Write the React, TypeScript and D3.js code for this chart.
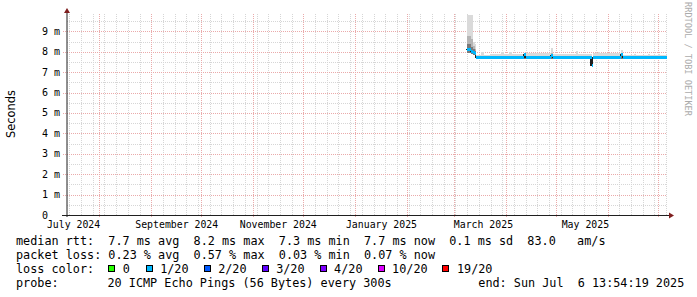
import React from "react";
import * as d3 from "d3";

// ---------- data ----------
const END_TIME = "2025-07-06T13:54:19Z";
const SPAN_DAYS = 359;

const sampleTimes = [
  "2025-03-08T22:00:00Z", "2025-03-11T08:00:00Z", "2025-03-12T12:00:00Z", "2025-03-13T12:00:00Z",
  "2025-03-14T08:00:00Z", "2025-03-17T14:00:00Z", "2025-03-19T02:00:00Z", "2025-03-22T17:00:00Z",
  "2025-03-29T07:00:00Z", "2025-03-31T00:00:00Z", "2025-04-03T00:00:00Z", "2025-04-05T00:00:00Z",
  "2025-04-12T07:00:00Z", "2025-04-12T22:00:00Z", "2025-04-28T00:00:00Z", "2025-04-29T05:00:00Z",
  "2025-05-13T10:00:00Z", "2025-05-14T14:00:00Z", "2025-05-22T10:00:00Z", "2025-05-23T14:00:00Z",
  "2025-05-26T00:00:00Z", "2025-05-27T05:00:00Z", "2025-05-31T12:00:00Z", "2025-06-02T00:00:00Z",
  "2025-06-09T00:00:00Z", "2025-06-10T05:00:00Z", "2025-06-17T02:00:00Z", "2025-06-18T07:00:00Z",
  "2025-06-25T00:00:00Z", "2025-06-26T05:00:00Z", "2025-07-01T00:00:00Z", "2025-07-02T05:00:00Z",
  "2025-07-06T13:54:19Z",
];
// median rtt (ms)
const medianMs = [
  8.10, 8.03, 7.98, 7.93, 7.70, 7.70, 7.70, 7.70,
  7.70, 7.70, 7.70, 7.70, 7.88, 7.70, 7.83, 7.70,
  7.70, 7.70, 7.35, 7.70, 7.70, 7.70, 7.70, 7.70,
  7.86, 7.70, 7.70, 7.70, 7.70, 7.70, 7.70, 7.70,
  7.70,
];
// smoke: outer (max ping), middle, inner, lower bound (ms)
const smokeHi1 = [
  12.0, 12.0, 8.50, 8.40, 7.84, 8.00, 7.86, 7.89,
  7.98, 7.89, 7.98, 7.89, 7.95, 7.92, 8.20, 7.89,
  8.03, 7.89, 7.45, 7.92, 8.00, 7.93, 7.96, 7.93,
  8.09, 7.84, 7.90, 7.84, 7.89, 7.83, 7.87, 7.83,
  7.83,
];
const smokeHi2 = [
  8.75, 8.60, 8.30, 8.15, 7.74, 7.74, 7.74, 7.74,
  7.74, 7.74, 7.74, 7.74, 7.92, 7.74, 7.92, 7.74,
  7.74, 7.74, 7.40, 7.74, 7.74, 7.74, 7.74, 7.74,
  7.92, 7.74, 7.74, 7.74, 7.74, 7.74, 7.74, 7.74,
  7.74,
];
const smokeHi3 = [
  8.40, 8.25, 8.12, 8.02, 7.72, 7.72, 7.72, 7.72,
  7.72, 7.72, 7.72, 7.72, 7.90, 7.72, 7.86, 7.72,
  7.72, 7.72, 7.37, 7.72, 7.72, 7.72, 7.72, 7.72,
  7.89, 7.72, 7.72, 7.72, 7.72, 7.72, 7.72, 7.72,
  7.72,
];
const smokeLo = [
  7.95, 7.88, 7.85, 7.80, 7.64, 7.64, 7.64, 7.64,
  7.64, 7.64, 7.64, 7.64, 7.66, 7.64, 7.66, 7.64,
  7.64, 7.64, 7.30, 7.64, 7.64, 7.64, 7.64, 7.64,
  7.66, 7.64, 7.64, 7.64, 7.64, 7.64, 7.64, 7.64,
  7.64,
];
// loss bucket index per sample (into lossLabels / lossColors)
const lossBucket = [
  1, 1, 1, 1, 1, 1, 1, 1, 1, 1, 1, 1, 1, 1, 1, 1,
  1, 1, 1, 1, 1, 1, 1, 1, 1, 1, 1, 1, 1, 1, 1, 1, 1,
];

const lossLabels = ["0", "1/20", "2/20", "3/20", "4/20", "10/20", "19/20"];
const lossColors = ["#26ff00", "#00b8ff", "#0059ff", "#5e00ff", "#7e00ff", "#dd00ff", "#ff0000"];

const yMax = 9.8;
const yTicks = [0, 1, 2, 3, 4, 5, 6, 7, 8, 9];
const yTickLabels = ["0", "1 m", "2 m", "3 m", "4 m", "5 m", "6 m", "7 m", "8 m", "9 m"];

const monthLabels = ["July 2024", "September 2024", "November 2024", "January 2025", "March 2025", "May 2025"];
const monthLabelDates = [
  "2024-07-16T12:00:00Z", "2024-09-16T06:00:00Z", "2024-11-16T00:00:00Z",
  "2025-01-16T18:00:00Z", "2025-03-18T18:00:00Z", "2025-05-18T18:00:00Z",
];

const rttStats = ["7.7 ms avg", "8.2 ms max", "7.3 ms min", "7.7 ms now", "0.1 ms sd", "83.0   am/s"];
const lossStats = ["0.23 % avg", "0.57 % max", "0.03 % min", "0.07 % now"];
const probeText = "20 ICMP Echo Pings (56 Bytes) every 300s";
const endText = "end: Sun Jul  6 13:54:19 2025";

// ---------- layout ----------
const W = 697, H = 297;
const PL = 67, PR = 667, PT = 15, PB = 215;
const MONO = "'DejaVu Sans Mono', monospace";

export default function App() {
  const end = new Date(END_TIME);
  const start = new Date(end.getTime() - SPAN_DAYS * 86400000);
  const x = d3.scaleUtc().domain([start, end]).range([PL, PR]);
  const y = d3.scaleLinear().domain([0, yMax]).range([PB, PT]);

  const times = sampleTimes.map((s) => new Date(s));
  const idx = d3.range(times.length);

  const smokeArea = (hi: number[]) =>
    d3.area<number>()
      .curve(d3.curveStepAfter)
      .x((i) => x(times[i]))
      .y0((i) => y(smokeLo[i]))
      .y1((i) => y(hi[i]))(idx) || "";

  const medLine = d3.line<number>()
    .curve(d3.curveStepAfter)
    .x((i) => x(times[i]))
    .y((i) => y(medianMs[i]))(idx) || "";

  const weeks = d3.utcSunday.range(start, end);
  const months = d3.utcMonth.range(start, end);
  const minorY = d3.range(0.5, yMax, 1);

  const gridGrey = "#d6d6d6";
  const gridRed = "#eaaaaa";

  // legend box layout
  const adv = 6.87;
  const boxX: number[] = [];
  let bx = 108.3;
  lossLabels.forEach((l) => {
    boxX.push(bx);
    bx += 30.5 + l.length * adv;
  });

  const legendBase = [245, 259, 272.8, 286.7];

  return (
    <svg
      width={W}
      height={H}
      style={{ position: "absolute", left: 0, top: 0, display: "block", background: "#fff" }}
    >
      <defs>
        <clipPath id="plotclip">
          <rect x={PL} y={PT} width={PR - PL} height={PB - PT} />
        </clipPath>
      </defs>
      <rect x={0} y={0} width={W} height={H} fill="#fff" />

      {/* minor grid */}
      <g stroke={gridGrey} strokeWidth={1} strokeDasharray="1 1" shapeRendering="crispEdges">
        {weeks.map((d, i) => (
          <line key={"w" + i} x1={Math.round(x(d)) + 0.5} x2={Math.round(x(d)) + 0.5} y1={PT - 1} y2={PB} />
        ))}
        {minorY.map((v, i) => (
          <line key={"my" + i} x1={PL} x2={PR} y1={Math.round(y(v)) + 0.5} y2={Math.round(y(v)) + 0.5} />
        ))}
      </g>
      {/* major grid */}
      <g stroke={gridRed} strokeWidth={1} strokeDasharray="1 1" shapeRendering="crispEdges">
        {months.map((d, i) => (
          <line key={"m" + i} x1={Math.round(x(d)) + 0.5} x2={Math.round(x(d)) + 0.5} y1={PT - 1} y2={PB + 2} />
        ))}
        {yTicks.filter((v) => v > 0).map((v, i) => (
          <line key={"My" + i} x1={PL - 4} x2={PR} y1={Math.round(y(v)) + 0.5} y2={Math.round(y(v)) + 0.5} />
        ))}
      </g>

      {/* smoke */}
      <g clipPath="url(#plotclip)" shapeRendering="crispEdges">
        <path d={smokeArea(smokeHi1)} fill="#dadada" />
        <path d={smokeArea(smokeHi2)} fill="#b4b4b4" />
        <path d={smokeArea(smokeHi3)} fill="#7a7a7a" />
        <path d={medLine} fill="none" stroke="#202020" strokeWidth={1.2} transform="translate(-0.6,0)" />
        {idx.slice(0, -1).map((i) => (
          <rect
            key={"b" + i}
            x={x(times[i])}
            width={Math.max(0, x(times[i + 1]) - x(times[i]))}
            y={y(medianMs[i]) - 1.5}
            height={3}
            fill={lossColors[lossBucket[i]]}
          />
        ))}
      </g>

      {/* axes */}
      <line x1={PL - 5} x2={PR + 3} y1={PB + 0.5} y2={PB + 0.5} stroke="#1f1f1f" strokeWidth={1} shapeRendering="crispEdges" />
      <line x1={PL} x2={PL} y1={PB + 2} y2={PT - 3} stroke="#1f1f1f" strokeWidth={1} />
      <path d={`M${PL},${PT - 7} L${PL - 3},${PT - 2} L${PL + 3},${PT - 2} Z`} fill="#7f1f1f" />
      <path d={`M${PR + 7},${PB + 0.5} L${PR + 2},${PB - 2.5} L${PR + 2},${PB + 3.5} Z`} fill="#7f1f1f" />

      {/* y tick labels */}
      <g fontFamily={MONO} fontSize={10} fill="#000">
        {yTicks.map((v, i) => (
          <text key={"yl" + i} x={42} y={y(v) + 3.5} style={{ whiteSpace: "pre" }}>
            {yTickLabels[i]}
          </text>
        ))}
      </g>

      {/* x labels */}
      <g fontFamily={MONO} fontSize={9.85} fill="#000" textAnchor="middle">
        {monthLabels.map((l, i) => (
          <text key={"xl" + i} x={x(new Date(monthLabelDates[i]))} y={227.5}>
            {l}
          </text>
        ))}
      </g>

      {/* y title */}
      <text
        transform="translate(15,114) rotate(-90)"
        textAnchor="middle"
        fontFamily="'DejaVu Sans', sans-serif"
        fontSize={11.4}
        fill="#000"
      >
        Seconds
      </text>

      {/* watermark */}
      <text
        transform="translate(684.5,59) rotate(90)"
        textAnchor="middle"
        fontFamily={MONO}
        fontSize={8.6}
        fill="#ababab"
      >
        RRDTOOL / TOBI OETIKER
      </text>

      {/* legend */}
      <g fontFamily={MONO} fontSize={11.8} fill="#000" style={{ whiteSpace: "pre" }}>
        <text x={16} y={legendBase[0]} style={{ whiteSpace: "pre" }}>
          {"median rtt:  " + rttStats.join("  ")}
        </text>
        <text x={16} y={legendBase[1]} style={{ whiteSpace: "pre" }}>
          {"packet loss: " + lossStats.join("  ")}
        </text>
        <text x={16} y={legendBase[2]} style={{ whiteSpace: "pre" }}>
          loss color:
        </text>
        {lossLabels.map((l, i) => (
          <g key={"lc" + i}>
            <rect
              x={Math.round(boxX[i]) + 0.5}
              y={265.5}
              width={6}
              height={6}
              fill={lossColors[i]}
              stroke="#000"
              strokeWidth={1}
              shapeRendering="crispEdges"
            />
            <text x={boxX[i] + 14.5} y={legendBase[2]}>
              {l}
            </text>
          </g>
        ))}
        <text x={16} y={legendBase[3]}>probe:</text>
        <text x={107.5} y={legendBase[3]} style={{ whiteSpace: "pre" }}>
          {probeText}
        </text>
        <text x={478.3} y={legendBase[3]} style={{ whiteSpace: "pre" }}>
          {endText}
        </text>
      </g>
    </svg>
  );
}
